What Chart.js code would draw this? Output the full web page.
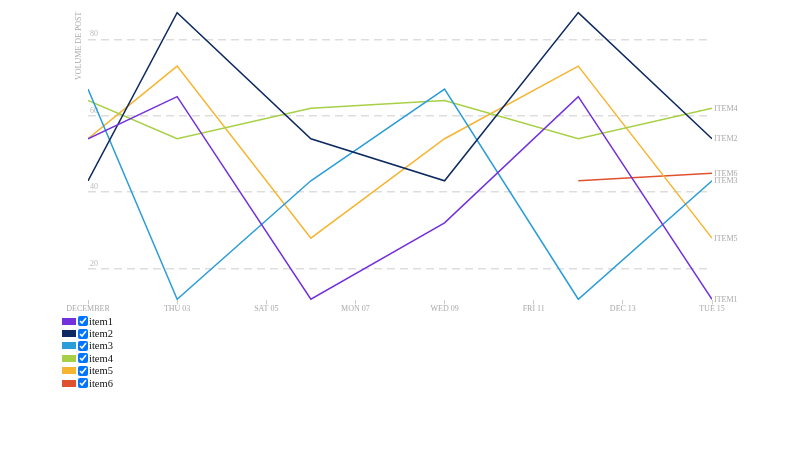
<!DOCTYPE html>
<html>
<head>
<meta charset="utf-8">
<script src="https://cdn.jsdelivr.net/npm/chart.js@4/dist/chart.umd.min.js"></script>
<style>
  html, body { margin: 0; padding: 0; background: #fff; }
  #wrap { position: relative; width: 800px; height: 450px; }
  #c { position: absolute; left: 0; top: 0; }
  #legend { position: absolute; left: 62px; top: 315px; font-family: "Liberation Serif", serif; font-size: 10.5px; color: #111; }
  #legend .row { height: 12.4px; display: flex; align-items: center; }
  #legend .sw { width: 14px; height: 7px; margin-right: 2px; }
  #legend input { width: 10px; height: 10px; margin: 0 1px 0 0; }
</style>
</head>
<body>
<div id="wrap">
  <canvas id="c" width="800" height="450"></canvas>
  <div id="legend"></div>
</div>
<script>
const days = [1, 3, 6, 9, 12, 15];
const seriesNames = ["item1", "item2", "item3", "item4", "item5", "item6"];
const endLabels = ["ITEM1", "ITEM2", "ITEM3", "ITEM4", "ITEM5", "ITEM6"];
const item1 = [54, 65, 12, 32, 65, 12];
const item2 = [43, 87, 54, 43, 87, 54];
const item3 = [67, 12, 43, 67, 12, 43];
const item4 = [64, 54, 62, 64, 54, 62];
const item5 = [54, 73, 28, 54, 73, 28];
const item6 = [null, null, null, null, 43, 45];
const colors = ["#7330dd", "#0d2b60", "#2b9dd8", "#a8d046", "#f6b530", "#df5230"];
const xTickDays = [1, 3, 5, 7, 9, 11, 13, 15];
const xTickLabels = ["DECEMBER", "THU 03", "SAT 05", "MON 07", "WED 09", "FRI 11", "DEC 13", "TUE 15"];
const yTicks = [20, 40, 60, 80];
const yTitle = "VOLUME DE POST";

const allSeries = [item1, item2, item3, item4, item5, item6];
const datasets = allSeries.map((vals, i) => ({
  label: seriesNames[i],
  data: days.map((d, j) => ({ x: d, y: vals[j] })).filter(p => p.y !== null),
  borderColor: colors[i],
  backgroundColor: colors[i],
  borderWidth: 1.5,
  pointRadius: 0,
  tension: 0,
  fill: false
}));

const font = "'Liberation Serif', serif";

const endLabelPlugin = {
  id: 'endLabels',
  afterDatasetsDraw(chart) {
    const ctx = chart.ctx;
    ctx.save();
    ctx.font = "8px " + font;
    ctx.fillStyle = "#aaaaaa";
    ctx.textAlign = "left";
    ctx.textBaseline = "middle";
    chart.data.datasets.forEach((ds, i) => {
      const meta = chart.getDatasetMeta(i);
      const pt = meta.data[meta.data.length - 1];
      if (pt) ctx.fillText(endLabels[i], pt.x + 2, pt.y + 0.5);
    });
    ctx.translate(78.5, 80);
    ctx.rotate(-Math.PI / 2);
    ctx.textAlign = "left";
    ctx.fillText(yTitle, 0, 0);
    ctx.restore();
  }
};

const zeroPad = s => { s.paddingTop = 0; s.paddingBottom = 0; s.paddingLeft = 0; s.paddingRight = 0; };

new Chart(document.getElementById('c'), {
  type: 'line',
  data: { datasets },
  options: {
    responsive: false,
    animation: false,
    layout: { padding: { left: 84, right: 88, top: 0, bottom: 136 } },
    plugins: { legend: { display: false }, tooltip: { enabled: false } },
    scales: {
      x: {
        type: 'linear',
        min: 1, max: 15,
        afterBuildTicks: s => { s.ticks = xTickDays.map(v => ({ value: v })); },
        afterFit: zeroPad,
        ticks: {
          callback: (v) => xTickLabels[xTickDays.indexOf(v)],
          font: { family: font, size: 8 },
          color: "#aaaaaa",
          padding: 0,
          maxRotation: 0,
          autoSkip: false
        },
        grid: { drawOnChartArea: false, drawTicks: true, tickLength: 4, color: "#cccccc" },
        border: { display: false }
      },
      y: {
        min: 11.7, max: 90.3,
        afterBuildTicks: s => { s.ticks = yTicks.map(v => ({ value: v })); },
        afterFit: zeroPad,
        ticks: {
          mirror: true,
          padding: 2,
          labelOffset: -5,
          font: { family: font, size: 8 },
          color: "#bbbbbb"
        },
        grid: { drawTicks: false, color: "#dddddd", lineWidth: 1.5 },
        border: { display: false, dash: [8, 5] }
      }
    }
  },
  plugins: [endLabelPlugin]
});

const legend = document.getElementById('legend');
seriesNames.forEach((n, i) => {
  const row = document.createElement('div');
  row.className = 'row';
  row.innerHTML = '<span class="sw" style="background:' + colors[i] + '"></span><input type="checkbox" checked><span>' + n + '</span>';
  legend.appendChild(row);
});
</script>
</body>
</html>
